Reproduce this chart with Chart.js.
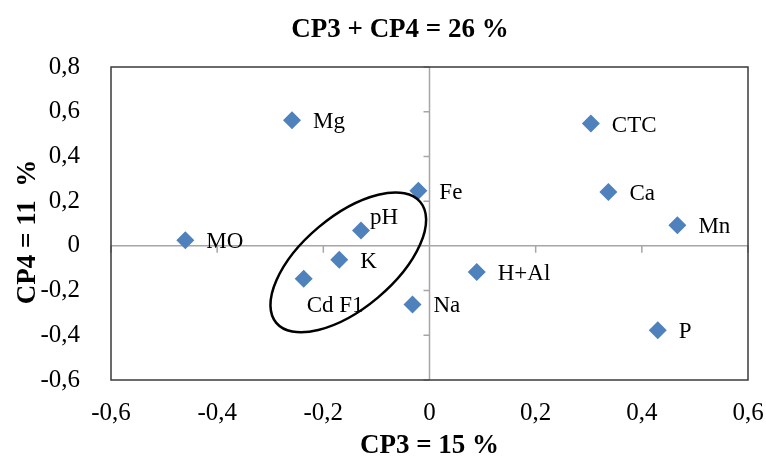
<!DOCTYPE html>
<html>
<head>
<meta charset="utf-8">
<script src="https://cdn.jsdelivr.net/npm/chart.js@4.4.1/dist/chart.umd.min.js"></script>
<style>
  html, body { margin: 0; padding: 0; background: #fff; }
  #wrap { width: 766px; height: 464px; }
</style>
</head>
<body>
<div id="wrap"><canvas id="pca" width="766" height="464"></canvas></div>
<script>
// variables on the CP3 x CP4 plane
const names = ['Mg', 'MO', 'pH', 'K', 'Cd F1', 'Fe', 'Na', 'CTC', 'Ca', 'Mn', 'H+Al', 'P'];
const cp3 = [-0.259, -0.460, -0.129, -0.170, -0.237, -0.021, -0.032, 0.304, 0.337, 0.467, 0.089, 0.430];
const cp4 = [0.562, 0.025, 0.069, -0.062, -0.147, 0.246, -0.262, 0.547, 0.241, 0.092, -0.117, -0.378];

const xRange = [-0.6, 0.6];
const yRange = [-0.6, 0.8];
const tickStep = 0.2;

const chartTitle = 'CP3 + CP4 = 26 %';
const xTitle = 'CP3 = 15 %';
const yTitle = 'CP4 = 11  %';

// ellipse around the Cd group, in data units (center) and pixels (radii)
const groupCenter = { x: -0.153, y: -0.074 };

const serif = '"Liberation Serif", "Times New Roman", serif';

function fmt(v) {
    if (Math.abs(v) < 1e-9) return '0';
    return v.toFixed(1).replace('.', ',');
}

const decorPlugin = {
    id: 'decor',
    beforeDatasetsDraw(chart) {
        const { ctx, chartArea: a, scales: { x, y } } = chart;
        const x0 = x.getPixelForValue(0);
        const y0 = y.getPixelForValue(0);
        ctx.save();
        // zero axes with tick marks
        ctx.strokeStyle = '#a6a6a6';
        ctx.lineWidth = 1.5;
        ctx.beginPath();
        ctx.moveTo(a.left, y0); ctx.lineTo(a.right, y0);
        ctx.moveTo(x0, a.top); ctx.lineTo(x0, a.bottom);
        y.ticks.forEach(t => {
            const py = y.getPixelForValue(t.value);
            ctx.moveTo(x0 - 6, py); ctx.lineTo(x0, py);
        });
        x.ticks.forEach(t => {
            const px = x.getPixelForValue(t.value);
            ctx.moveTo(px, y0); ctx.lineTo(px, y0 + 7);
        });
        ctx.stroke();
        // plot frame
        ctx.strokeStyle = '#3a3a3a';
        ctx.lineWidth = 1.5;
        ctx.strokeRect(a.left, a.top, a.right - a.left, a.bottom - a.top);
        ctx.restore();
    },
    afterDatasetsDraw(chart, args, opts) {
        const { ctx, scales: { x, y } } = chart;
        const meta = chart.getDatasetMeta(0);
        ctx.save();
        ctx.fillStyle = '#000';
        ctx.font = '23px ' + serif;
        ctx.textAlign = 'left';
        ctx.textBaseline = 'middle';
        meta.data.forEach((pt, i) => {
            const off = opts.offsets[names[i]] || opts.defaultOffset;
            ctx.fillText(names[i], pt.x + off[0], pt.y + off[1]);
        });

        // group ellipse
        ctx.strokeStyle = '#000';
        ctx.lineWidth = 2.5;
        ctx.beginPath();
        ctx.ellipse(x.getPixelForValue(groupCenter.x), y.getPixelForValue(groupCenter.y), 94, 46, -40 * Math.PI / 180, 0, Math.PI * 2);
        ctx.stroke();

        // titles
        ctx.font = 'bold 27px ' + serif;
        ctx.textAlign = 'center';
        ctx.fillText(chartTitle, 400, 30);
        ctx.fillText(xTitle, (chart.chartArea.left + chart.chartArea.right) / 2, 446);
        ctx.translate(28, 232);
        ctx.rotate(-Math.PI / 2);
        ctx.fillText(yTitle, 0, 0);
        ctx.restore();
    }
};

new Chart(document.getElementById('pca'), {
    type: 'scatter',
    data: {
        datasets: [{
            data: cp3.map((v, i) => ({ x: v, y: cp4[i] })),
            pointStyle: 'rectRot',
            pointRadius: 9,
            pointHoverRadius: 9,
            backgroundColor: '#4f81bd',
            borderColor: '#4f81bd',
            borderWidth: 0
        }]
    },
    options: {
        responsive: false,
        devicePixelRatio: 1,
        animation: false,
        layout: { padding: { top: 67, right: 18, left: 0, bottom: 0 } },
        plugins: {
            legend: { display: false },
            tooltip: { enabled: false },
            decor: {
                defaultOffset: [21, 2],
                offsets: { 'pH': [9, -12], 'Cd F1': [3, 27] }
            }
        },
        scales: {
            x: {
                type: 'linear',
                min: xRange[0], max: xRange[1],
                grid: { display: false },
                border: { display: false },
                ticks: {
                    stepSize: tickStep,
                    padding: 10,
                    color: '#000',
                    font: { family: serif, size: 25 },
                    callback: v => fmt(v)
                },
                afterFit: s => { s.height = 84; s.paddingLeft = 0; s.paddingRight = 0; }
            },
            y: {
                type: 'linear',
                min: yRange[0], max: yRange[1],
                grid: { display: false },
                border: { display: false },
                ticks: {
                    stepSize: tickStep,
                    padding: 23,
                    color: '#000',
                    font: { family: serif, size: 25 },
                    callback: v => fmt(v)
                },
                afterFit: s => { s.width = 111; }
            }
        }
    },
    plugins: [decorPlugin]
});
</script>
</body>
</html>
